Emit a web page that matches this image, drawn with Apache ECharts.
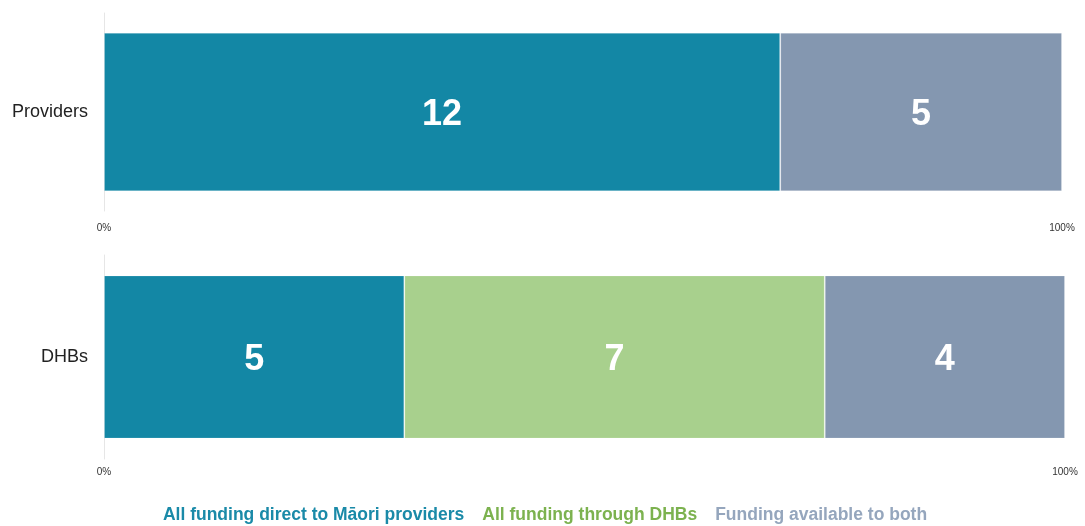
<!DOCTYPE html>
<html>
<head>
<meta charset="utf-8">
<script src="https://cdn.jsdelivr.net/npm/echarts@6/dist/echarts.min.js"></script>
<style>
  html, body { margin: 0; padding: 0; background: #fff; }
  #main { width: 1085px; height: 526px; }
</style>
</head>
<body>
<div id="main"></div>
<script>
var groups = ['Providers', 'DHBs'];
var seriesNames = ['All funding direct to Māori providers', 'All funding through DHBs', 'Funding available to both'];
var direct = [12, 5];
var throughDHBs = [0, 7];
var both = [5, 4];

var colors = ['#1387a5', '#a8d08d', '#8497b0'];
var legendColors = ['#1a8aa8', '#7cb24f', '#95a6bd'];

var myChart = echarts.init(document.getElementById('main'));

var grids = [
  { left: 104, right: 23, top: 13, height: 198 },
  { left: 104, right: 20, top: 255, height: 204 }
];

var xAxes = [], yAxes = [], series = [];
var values = [direct, throughDHBs, both];

groups.forEach(function (g, i) {
  var total = direct[i] + throughDHBs[i] + both[i];
  xAxes.push({
    type: 'value',
    gridIndex: i,
    min: 0,
    max: total,
    interval: total,
    axisLine: { show: false },
    axisTick: { show: false },
    splitLine: { show: false },
    axisLabel: {
      margin: i === 0 ? 12 : 8,
      fontSize: 10,
      color: '#333',
      fontFamily: 'Liberation Sans',
      formatter: function (v) { return Math.round(v / total * 100) + '%'; }
    }
  });
  yAxes.push({
    type: 'category',
    gridIndex: i,
    data: [g],
    axisLine: { show: true, lineStyle: { color: '#e6e6e6', width: 1 } },
    axisTick: { show: false },
    axisLabel: { margin: 16, fontSize: 18, color: '#222', fontFamily: 'Liberation Sans' }
  });
  seriesNames.forEach(function (name, k) {
    series.push({
      name: name,
      type: 'bar',
      stack: 'g' + i,
      xAxisIndex: i,
      yAxisIndex: i,
      barCategoryGap: '20%',
      data: [values[k][i]],
      itemStyle: { color: colors[k], borderColor: 'rgba(255,255,255,0.2)', borderWidth: 1 },
      label: {
        show: true,
        position: 'inside',
        offset: [0, 3],
        color: '#fff',
        fontSize: 36,
        fontWeight: 'bold',
        fontFamily: 'Liberation Sans',
        formatter: function (p) { return p.value ? String(p.value) : ''; }
      },
      silent: true
    });
  });
});

myChart.setOption({
  animation: false,
  color: colors,
  grid: grids,
  xAxis: xAxes,
  yAxis: yAxes,
  legend: {
    top: 506,
    left: 'center',
    padding: 0,
    icon: 'none',
    itemWidth: 0,
    itemHeight: 0,
    itemGap: 13,
    selectedMode: false,
    textStyle: { fontSize: 17.5, fontWeight: 'bold', fontFamily: 'Liberation Sans' },
    data: seriesNames.map(function (n, k) {
      return { name: n, textStyle: { color: legendColors[k] } };
    })
  },
  series: series
});
</script>
</body>
</html>
